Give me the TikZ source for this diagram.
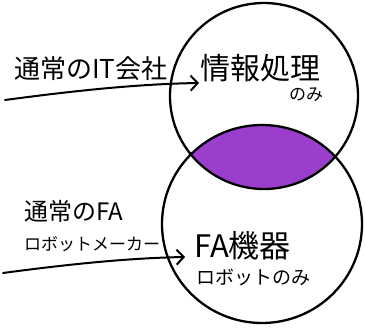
\documentclass[tikz,border=0pt]{standalone}
\usepackage{fontspec}
\setmainfont{Noto Sans CJK JP}
\usetikzlibrary{arrows.meta,shapes.geometric}
\definecolor{lens}{RGB}{155,62,205}
\tikzset{
  ring/.style={draw=black,line width=2.3pt,ellipse,inner sep=0pt},
  lbl/.style={inner sep=0pt,anchor=base west,text=black},
  pointer/.style={line width=2pt,line cap=round,-{Straight Barb[length=7pt,width=15pt,line width=2pt]}},
}
\newcommand{\fs}[1]{\fontsize{#1}{#1}\selectfont}
\begin{document}
\begin{tikzpicture}[x=1pt,y=-1pt]
\useasboundingbox (0,0) rectangle (365,329);
% lens
\begin{scope}
  \clip (264,96) ellipse [x radius=94, y radius=93];
  \fill[lens] (262,224) ellipse [x radius=100, y radius=99];
\end{scope}
\node[ring,minimum width=188pt,minimum height=186pt] (top) at (264,96) {};
\node[ring,minimum width=200pt,minimum height=198pt] (bot) at (262,224) {};
% texts
\node[lbl] (it) at (14,79) {\fs{26}通常のIT会社};
\node[lbl] (info) at (200,80) {\fs{30}情報処理};
\node[lbl] (only1) at (289,101) {\fs{17}のみ};
\node[lbl] (fa) at (24,221) {\fs{24}通常のFA};
\node[lbl] (robo) at (24,251) {\fs{17}ロボットメーカー};
\node[lbl] (fadev) at (194,258) {\fs{31}FA機器};
\node[lbl] (only2) at (196,284) {\fs{19}ロボットのみ};
% arrows
\coordinate (s1) at (5,100);
\coordinate (e1) at (199,83);
\coordinate (s2) at (3,273);
\coordinate (e2) at (185,257);
\draw[pointer] (s1) .. controls (80,90) and (140,84) .. (e1);
\draw[pointer] (s2) .. controls (70,264) and (130,258) .. (e2);
\end{tikzpicture}
\end{document}
